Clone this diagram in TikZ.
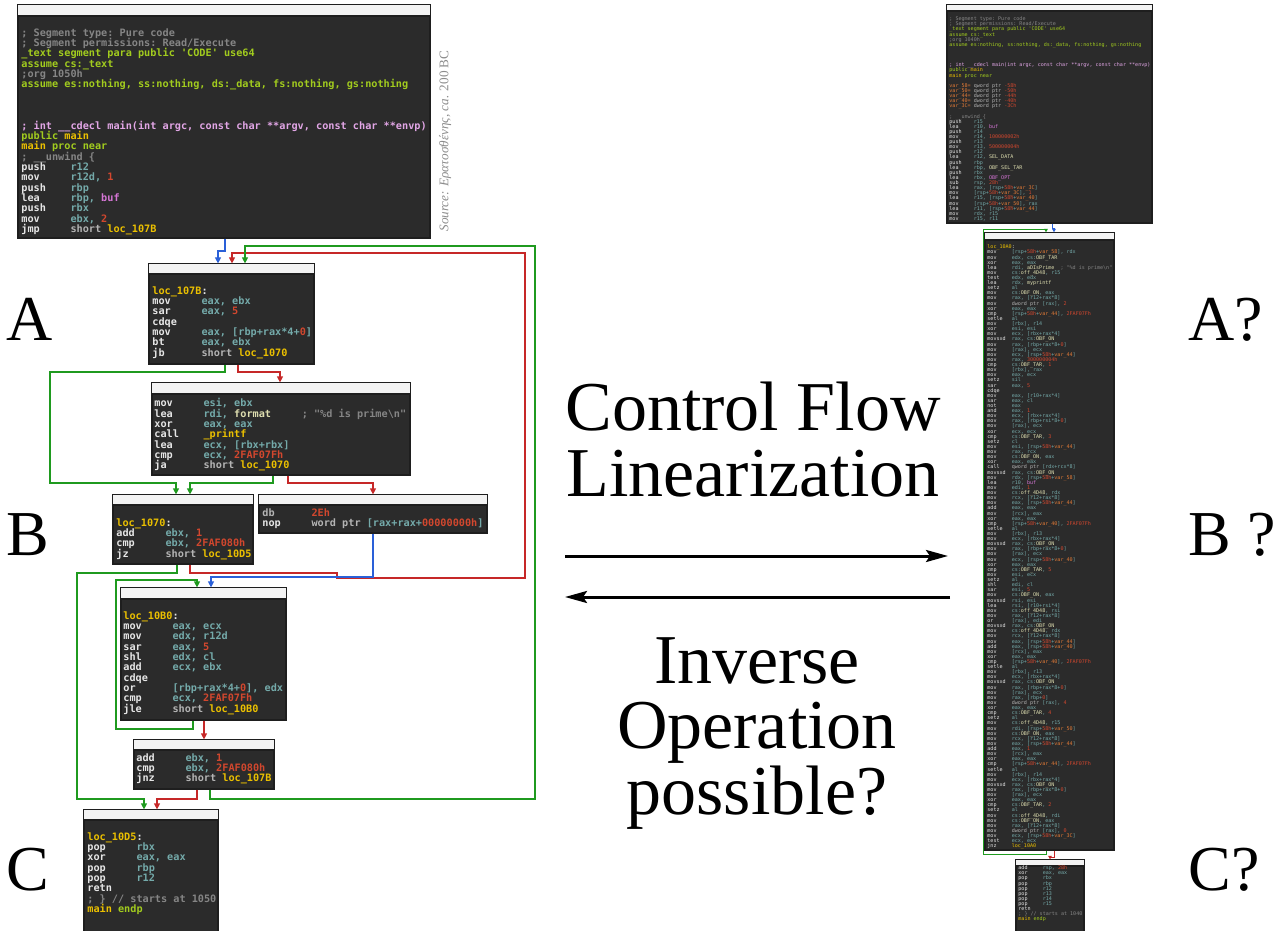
\documentclass[tikz,border=0pt]{standalone}
\usepackage{fontspec}
\setmainfont{Liberation Serif}
\setmonofont{DejaVu Sans Mono}
\usetikzlibrary{arrows.meta,fit}

\definecolor{codebg}{HTML}{2B2B2B}
\definecolor{titlec}{HTML}{F3F3F3}
\definecolor{framec}{HTML}{1E1E1E}
\definecolor{insc}{HTML}{E6E6E6}
\definecolor{cmtc}{HTML}{858585}
\definecolor{kwc}{HTML}{B4B4B4}
\definecolor{grnc}{HTML}{A2CC1E}
\definecolor{labc}{HTML}{EBC000}
\definecolor{nmbc}{HTML}{D2472E}
\definecolor{regc}{HTML}{74AAAA}
\definecolor{sigc}{HTML}{E2A6E6}
\definecolor{pnkc}{HTML}{D676D6}
\definecolor{symc}{HTML}{DEDEB0}
\definecolor{varc}{HTML}{E27A36}
\definecolor{flowgreen}{HTML}{1F9A1F}
\definecolor{flowred}{HTML}{C62828}
\definecolor{flowblue}{HTML}{2A60D8}
\definecolor{srcgray}{HTML}{8C8C8C}

\newcommand\cmt[1]{\textcolor{cmtc}{#1}}
\newcommand\kw[1]{\textcolor{kwc}{#1}}
\newcommand\grn[1]{\textcolor{grnc}{#1}}
\newcommand\lab[1]{\textcolor{labc}{#1}}
\newcommand\nmb[1]{\textcolor{nmbc}{#1}}
\newcommand\rg[1]{\textcolor{regc}{#1}}
\newcommand\sig[1]{\textcolor{sigc}{#1}}
\newcommand\pnk[1]{\textcolor{pnkc}{#1}}
\newcommand\symb[1]{\textcolor{symc}{#1}}
\newcommand\varo[1]{\textcolor{varc}{#1}}
\newcommand\ins[2]{\makebox[8\fontcharwd\font`0][l]{#1}#2}
\newcommand\gap[1]{\hspace*{#1\fontcharwd\font`0}}
\newcommand\stkv[1]{\rg{[rsp+}\nmb{58h}\rg{+}\varo{var\_#1}\rg{]}}
\newcommand\monospacing{\spaceskip=\fontcharwd\font`0\relax\xspaceskip=\spaceskip\lineskiplimit=-20pt\relax}
\newcommand\codeblk[6]{%
  \node[block, fit={(#2,#3) (#4,#5)}] (#1) {};
  \draw[titlebar] (#1.north west) rectangle (#1.north east |- 0,#6);}

\begin{document}
\begin{tikzpicture}[x=0.5pt,y=-0.5pt]
\tikzset{block/.style = {draw=framec, line width=0.6pt, fill=codebg, inner sep=0pt}}
\tikzset{titlebar/.style = {draw=framec, line width=0.6pt, fill=titlec}}
\tikzset{code/.style = {inner sep=0pt, anchor=north west, align=left, text width=215pt, text=insc,
  font=\ttfamily\bfseries\fontsize{5.1}{5.17}\selectfont\monospacing,
  execute at begin node=\monospacing}}
\tikzset{tinycode/.style = {inner sep=0pt, anchor=north west, align=left, text width=110pt, text=insc,
  font=\ttfamily\fontsize{2.53}{2.56}\selectfont\monospacing,
  execute at begin node=\monospacing}}
\tikzset{flow/.style = {line width=0.6pt, -{Triangle[length=3pt,width=3pt]}}}
\tikzset{tinyflow/.style = {line width=0.45pt, -{Triangle[length=1.8pt,width=1.8pt]}}}
\tikzset{letter/.style = {inner sep=0pt, anchor=base west, font=\fontsize{32}{32}\selectfont}}
\tikzset{bigtext/.style = {inner sep=0pt, anchor=north, align=center, font=\fontsize{35}{32.8}\selectfont}}
\tikzset{bigarrow/.style = {line width=1.5pt, -{Stealth[length=11pt,width=6pt,inset=2pt]}}}

\useasboundingbox (0,0) rectangle (1288,930);
\clip (0,0) rectangle (1288,930);

\codeblk{bpro}{18}{5}{430}{238}{16}
\codeblk{b107b}{149}{264}{314}{364}{274}
\codeblk{besi}{152}{383}{410}{475}{394}
\codeblk{b1070}{113}{495}{253}{564}{505}
\codeblk{bdb}{259}{495}{487}{533}{505}
\codeblk{b10b0}{121}{588}{286}{720}{599}
\codeblk{badd}{134}{740}{274}{789}{750}
\codeblk{b10d5}{84}{810}{218}{940}{820}

\node[code] (tpro) at (21,28) {%
\cmt{; Segment type: Pure code}\\
\cmt{; Segment permissions: Read/Execute}\\
\grn{\_text segment para public 'CODE' use64}\\
\grn{assume cs:\_text}\\
\cmt{;org 1050h}\\
\grn{assume es:nothing, ss:nothing, ds:\_data, fs:nothing, gs:nothing}\\
\mbox{}\\
\mbox{}\\
\mbox{}\\
\sig{; int \_\_cdecl main(int argc, const char **argv, const char **envp)}\\
\grn{public} \lab{main}\\
\lab{main} \grn{proc near}\\
\cmt{; \_\_unwind \{}\\
\ins{push}{\rg{r12}}\\
\ins{mov}{\rg{r12d, }\nmb{1}}\\
\ins{push}{\rg{rbp}}\\
\ins{lea}{\rg{rbp, }\pnk{buf}}\\
\ins{push}{\rg{rbx}}\\
\ins{mov}{\rg{ebx, }\nmb{2}}\\
\ins{jmp}{\kw{short} \lab{loc\_107B}}};

\node[code] (t107b) at (152,286) {%
\lab{loc\_107B}:\\
\ins{mov}{\rg{eax, ebx}}\\
\ins{sar}{\rg{eax, }\nmb{5}}\\
\ins{cdqe}{}\\
\ins{mov}{\rg{eax, [rbp+rax*4+}\nmb{0}\rg{]}}\\
\ins{bt}{\rg{eax, ebx}}\\
\ins{jb}{\kw{short} \lab{loc\_1070}}};

\node[code] (tesi) at (154,398) {%
\ins{mov}{\rg{esi, ebx}}\\
\ins{lea}{\rg{rdi, }\symb{format}\gap{5}\cmt{; "\%d is prime\textbackslash n"}}\\
\ins{xor}{\rg{eax, eax}}\\
\ins{call}{\lab{\_printf}}\\
\ins{lea}{\rg{ecx, [rbx+rbx]}}\\
\ins{cmp}{\rg{ecx, }\nmb{2FAF07Fh}}\\
\ins{ja}{\kw{short} \lab{loc\_1070}}};

\node[code] (t1070) at (116,518) {%
\lab{loc\_1070}:\\
\ins{add}{\rg{ebx, }\nmb{1}}\\
\ins{cmp}{\rg{ebx, }\nmb{2FAF080h}}\\
\ins{jz}{\kw{short} \lab{loc\_10D5}}};

\node[code] (tdb) at (262,508) {%
\ins{\kw{db}}{\nmb{2Eh}}\\
\ins{nop}{\kw{word ptr} \rg{[rax+rax+}\nmb{00000000h}\rg{]}}};

\node[code] (t10b0) at (123,611) {%
\lab{loc\_10B0}:\\
\ins{mov}{\rg{eax, ecx}}\\
\ins{mov}{\rg{edx, r12d}}\\
\ins{sar}{\rg{eax, }\nmb{5}}\\
\ins{shl}{\rg{edx, cl}}\\
\ins{add}{\rg{ecx, ebx}}\\
\ins{cdqe}{}\\
\ins{or}{\rg{[rbp+rax*4+}\nmb{0}\rg{], edx}}\\
\ins{cmp}{\rg{ecx, }\nmb{2FAF07Fh}}\\
\ins{jle}{\kw{short} \lab{loc\_10B0}}};

\node[code] (tadd) at (136,753) {%
\ins{add}{\rg{ebx, }\nmb{1}}\\
\ins{cmp}{\rg{ebx, }\nmb{2FAF080h}}\\
\ins{jnz}{\kw{short} \lab{loc\_107B}}};

\node[code] (t10d5) at (87,832) {%
\lab{loc\_10D5}:\\
\ins{pop}{\rg{rbx}}\\
\ins{xor}{\rg{eax, eax}}\\
\ins{pop}{\rg{rbp}}\\
\ins{pop}{\rg{r12}}\\
\ins{retn}{}\\
\cmt{; \} // starts at 1050}\\
\lab{main} \grn{endp}};

\node[inner sep=0pt, rotate=90, text=srcgray, font=\fontsize{6.6}{7}\selectfont] (src) at (445,141)
  {\textit{Source: Ερατοσθένης, ca.} 200 BC};

\draw[flow, flowblue] (bpro.south -| 225,0) |- (218,251) -- (b107b.north -| 218,0);
\draw[flow, flowred] (b1070.south -| 190,0) |- (337,573) |- (525,578) |- (232,253) -- (b107b.north -| 232,0);
\draw[flow, flowgreen] (badd.south -| 210,0) |- (535,799) |- (245,246) -- (b107b.north -| 245,0);
\draw[flow, flowred] (b107b.south -| 238,0) |- (280,372) -- (besi.north -| 280,0);
\draw[flow, flowgreen] (b107b.south -| 225,0) |- (50,372) |- (176,483) -- (b1070.north -| 176,0);
\draw[flow, flowgreen] (besi.south -| 273,0) |- (190,483) -- (b1070.north -| 190,0);
\draw[flow, flowred] (besi.south -| 288,0) |- (373,483) -- (bdb.north -| 373,0);
\draw[flow, flowblue] (bdb.south -| 373,0) |- (211,577) -- (b10b0.north -| 211,0);
\draw[flow, flowgreen] (b1070.south -| 177,0) |- (77,573) |- (144,799) -- (b10d5.north -| 144,0);
\draw[flow, flowgreen] (b10b0.south -| 193,0) |- (116,729) |- (197,580) -- (b10b0.north -| 197,0);
\draw[flow, flowred] (b10b0.south -| 204,0) -- (badd.north -| 204,0);
\draw[flow, flowred] (badd.south -| 197,0) |- (157,799) -- (b10d5.north -| 157,0);

\codeblk{rpro}{947}{5}{1152}{223}{11}
\codeblk{rbody}{985}{233}{1114}{850}{240}
\codeblk{rend}{1016}{860}{1084}{940}{866}

\node[tinycode] (trpro) at (949,16.5) {%
\cmt{; Segment type: Pure code}\\
\cmt{; Segment permissions: Read/Execute}\\
\grn{\_text segment para public 'CODE' use64}\\
\grn{assume cs:\_text}\\
\cmt{;org 1040h}\\
\grn{assume es:nothing, ss:nothing, ds:\_data, fs:nothing, gs:nothing}\\
\mbox{}\\
\mbox{}\\
\mbox{}\\
\sig{; int \_\_cdecl main(int argc, const char **argv, const char **envp)}\\
\grn{public} \lab{main}\\
\lab{main} \grn{proc near}\\
\mbox{}\\
\ins{\varo{var\_58=}}{\kw{qword ptr} \nmb{-58h}}\\
\ins{\varo{var\_50=}}{\kw{qword ptr} \nmb{-50h}}\\
\ins{\varo{var\_44=}}{\kw{dword ptr} \nmb{-44h}}\\
\ins{\varo{var\_40=}}{\kw{dword ptr} \nmb{-40h}}\\
\ins{\varo{var\_3C=}}{\kw{dword ptr} \nmb{-3Ch}}\\
\mbox{}\\
\cmt{; \_\_unwind \{}\\
\ins{push}{\rg{r15}}\\
\ins{lea}{\rg{r10, }\pnk{buf}}\\
\ins{push}{\rg{r14}}\\
\ins{mov}{\rg{r14, }\nmb{100000002h}}\\
\ins{push}{\rg{r13}}\\
\ins{mov}{\rg{r13, }\nmb{500000004h}}\\
\ins{push}{\rg{r12}}\\
\ins{lea}{\rg{r12, }\symb{SEL\_DATA}}\\
\ins{push}{\rg{rbp}}\\
\ins{lea}{\rg{rbp, }\symb{OBF\_SEL\_TAR}}\\
\ins{push}{\rg{rbx}}\\
\ins{lea}{\rg{rbx, }\pnk{OBF\_OPT}}\\
\ins{sub}{\rg{rsp, }\nmb{28h}}\\
\ins{lea}{\rg{rax, }\stkv{3C}}\\
\ins{mov}{\stkv{3C}\rg{, }\nmb{1}}\\
\ins{lea}{\rg{r15, }\stkv{40}}\\
\ins{mov}{\stkv{50}\rg{, rax}}\\
\ins{lea}{\rg{r11, }\stkv{44}}\\
\ins{mov}{\rg{rdx, r15}}\\
\ins{mov}{\rg{r15, r11}}};

\node[tinycode] (trbody) at (987,244.5) {%
\lab{loc\_10A0}:\\
\ins{mov}{\stkv{58}\rg{, rdx}}\\
\ins{mov}{\rg{edx, cs:}\symb{OBF\_TAR}}\\
\ins{xor}{\rg{eax, eax}}\\
\ins{lea}{\rg{rdi, }\symb{aDIsPrime}\gap{2}\cmt{; "\%d is prime\textbackslash n"}}\\
\ins{mov}{\rg{cs:}\symb{off\_4D48}\rg{, r15}}\\
\ins{test}{\rg{edx, edx}}\\
\ins{lea}{\rg{rdx, }\symb{myprintf}}\\
\ins{setz}{\rg{al}}\\
\ins{mov}{\rg{cs:}\symb{OBF\_ON}\rg{, eax}}\\
\ins{mov}{\rg{rax, [r12+rax*8]}}\\
\ins{mov}{\kw{dword ptr} \rg{[rax], }\nmb{2}}\\
\ins{xor}{\rg{eax, eax}}\\
\ins{cmp}{\stkv{44}\rg{, }\nmb{2FAF07Fh}}\\
\ins{setle}{\rg{al}}\\
\ins{mov}{\rg{[rbx], r14}}\\
\ins{xor}{\rg{esi, esi}}\\
\ins{mov}{\rg{ecx, [rbx+rax*4]}}\\
\ins{movsxd}{\rg{rax, cs:}\symb{OBF\_ON}}\\
\ins{mov}{\rg{rax, [rbp+rax*8+}\nmb{0}\rg{]}}\\
\ins{mov}{\rg{[rax], ecx}}\\
\ins{mov}{\rg{ecx, }\stkv{44}}\\
\ins{mov}{\rg{rax, }\nmb{300000004h}}\\
\ins{cmp}{\rg{cs:}\symb{OBF\_TAR}\rg{, }\nmb{1}}\\
\ins{mov}{\rg{[rbx], rax}}\\
\ins{mov}{\rg{eax, ecx}}\\
\ins{setz}{\rg{sil}}\\
\ins{sar}{\rg{eax, }\nmb{5}}\\
\ins{cdqe}{}\\
\ins{mov}{\rg{eax, [r10+rax*4]}}\\
\ins{sar}{\rg{eax, cl}}\\
\ins{not}{\rg{eax}}\\
\ins{and}{\rg{eax, }\nmb{1}}\\
\ins{mov}{\rg{ecx, [rbx+rax*4]}}\\
\ins{mov}{\rg{rax, [rbp+rsi*8+}\nmb{0}\rg{]}}\\
\ins{mov}{\rg{[rax], ecx}}\\
\ins{xor}{\rg{ecx, ecx}}\\
\ins{cmp}{\rg{cs:}\symb{OBF\_TAR}\rg{, }\nmb{3}}\\
\ins{setz}{\rg{cl}}\\
\ins{mov}{\rg{esi, }\stkv{44}}\\
\ins{mov}{\rg{rax, rcx}}\\
\ins{mov}{\rg{cs:}\symb{OBF\_ON}\rg{, eax}}\\
\ins{xor}{\rg{eax, eax}}\\
\ins{call}{\kw{qword ptr} \rg{[rdx+rcx*8]}}\\
\ins{movsxd}{\rg{rax, cs:}\symb{OBF\_ON}}\\
\ins{mov}{\rg{rdx, }\stkv{58}}\\
\ins{lea}{\rg{r10, }\pnk{buf}}\\
\ins{mov}{\rg{edi, }\nmb{1}}\\
\ins{mov}{\rg{cs:}\symb{off\_4D48}\rg{, rdx}}\\
\ins{mov}{\rg{rcx, [r12+rax*8]}}\\
\ins{mov}{\rg{eax, }\stkv{44}}\\
\ins{add}{\rg{eax, eax}}\\
\ins{mov}{\rg{[rcx], eax}}\\
\ins{xor}{\rg{eax, eax}}\\
\ins{cmp}{\stkv{40}\rg{, }\nmb{2FAF07Fh}}\\
\ins{setle}{\rg{al}}\\
\ins{mov}{\rg{[rbx], r13}}\\
\ins{mov}{\rg{ecx, [rbx+rax*4]}}\\
\ins{movsxd}{\rg{rax, cs:}\symb{OBF\_ON}}\\
\ins{mov}{\rg{rax, [rbp+rax*8+}\nmb{0}\rg{]}}\\
\ins{mov}{\rg{[rax], ecx}}\\
\ins{mov}{\rg{ecx, }\stkv{40}}\\
\ins{xor}{\rg{eax, eax}}\\
\ins{cmp}{\rg{cs:}\symb{OBF\_TAR}\rg{, }\nmb{5}}\\
\ins{mov}{\rg{esi, ecx}}\\
\ins{setz}{\rg{al}}\\
\ins{shl}{\rg{edi, cl}}\\
\ins{sar}{\rg{esi, }\nmb{5}}\\
\ins{mov}{\rg{cs:}\symb{OBF\_ON}\rg{, eax}}\\
\ins{movsxd}{\rg{rsi, esi}}\\
\ins{lea}{\rg{rsi, [r10+rsi*4]}}\\
\ins{mov}{\rg{cs:}\symb{off\_4D48}\rg{, rsi}}\\
\ins{mov}{\rg{rax, [r12+rax*8]}}\\
\ins{or}{\rg{[rax], edi}}\\
\ins{movsxd}{\rg{rax, cs:}\symb{OBF\_ON}}\\
\ins{mov}{\rg{cs:}\symb{off\_4D48}\rg{, rdx}}\\
\ins{mov}{\rg{rcx, [r12+rax*8]}}\\
\ins{mov}{\rg{eax, }\stkv{44}}\\
\ins{add}{\rg{eax, }\stkv{40}}\\
\ins{mov}{\rg{[rcx], eax}}\\
\ins{xor}{\rg{eax, eax}}\\
\ins{cmp}{\stkv{40}\rg{, }\nmb{2FAF07Fh}}\\
\ins{setle}{\rg{al}}\\
\ins{mov}{\rg{[rbx], r13}}\\
\ins{mov}{\rg{ecx, [rbx+rax*4]}}\\
\ins{movsxd}{\rg{rax, cs:}\symb{OBF\_ON}}\\
\ins{mov}{\rg{rax, [rbp+rax*8+}\nmb{0}\rg{]}}\\
\ins{mov}{\rg{[rax], ecx}}\\
\ins{mov}{\rg{rax, [rbp+}\nmb{0}\rg{]}}\\
\ins{mov}{\kw{dword ptr} \rg{[rax], }\nmb{4}}\\
\ins{xor}{\rg{eax, eax}}\\
\ins{cmp}{\rg{cs:}\symb{OBF\_TAR}\rg{, }\nmb{4}}\\
\ins{setz}{\rg{al}}\\
\ins{mov}{\rg{cs:}\symb{off\_4D48}\rg{, r15}}\\
\ins{mov}{\rg{rdi, }\stkv{50}}\\
\ins{mov}{\rg{cs:}\symb{OBF\_ON}\rg{, eax}}\\
\ins{mov}{\rg{rcx, [r12+rax*8]}}\\
\ins{mov}{\rg{eax, }\stkv{44}}\\
\ins{add}{\rg{eax, }\nmb{1}}\\
\ins{mov}{\rg{[rcx], eax}}\\
\ins{xor}{\rg{eax, eax}}\\
\ins{cmp}{\stkv{44}\rg{, }\nmb{2FAF07Fh}}\\
\ins{setle}{\rg{al}}\\
\ins{mov}{\rg{[rbx], r14}}\\
\ins{mov}{\rg{ecx, [rbx+rax*4]}}\\
\ins{movsxd}{\rg{rax, cs:}\symb{OBF\_ON}}\\
\ins{mov}{\rg{rax, [rbp+rax*8+}\nmb{0}\rg{]}}\\
\ins{mov}{\rg{[rax], ecx}}\\
\ins{xor}{\rg{eax, eax}}\\
\ins{cmp}{\rg{cs:}\symb{OBF\_TAR}\rg{, }\nmb{2}}\\
\ins{setz}{\rg{al}}\\
\ins{mov}{\rg{cs:}\symb{off\_4D48}\rg{, rdi}}\\
\ins{mov}{\rg{cs:}\symb{OBF\_ON}\rg{, eax}}\\
\ins{mov}{\rg{rax, [r12+rax*8]}}\\
\ins{mov}{\kw{dword ptr} \rg{[rax], }\nmb{0}}\\
\ins{mov}{\rg{ecx, }\stkv{3C}}\\
\ins{test}{\rg{ecx, ecx}}\\
\ins{jnz}{\lab{loc\_10A0}}};

\node[tinycode] (trend) at (1018,865.5) {%
\ins{add}{\rg{rsp, }\nmb{28h}}\\
\ins{xor}{\rg{eax, eax}}\\
\ins{pop}{\rg{rbx}}\\
\ins{pop}{\rg{rbp}}\\
\ins{pop}{\rg{r12}}\\
\ins{pop}{\rg{r13}}\\
\ins{pop}{\rg{r14}}\\
\ins{pop}{\rg{r15}}\\
\ins{retn}{}\\
\cmt{; \} // starts at 1040}\\
\lab{main} \grn{endp}};

\draw[tinyflow, flowblue] (rpro.south -| 1052,0) |- (1054,228) -- (rbody.north -| 1054,0);
\draw[tinyflow, flowgreen] (rbody.south -| 1046,0) |- (983,854) |- (1046,229) -- (rbody.north -| 1046,0);
\draw[tinyflow, flowred] (rbody.south -| 1054,0) |- (1050,857) -- (rend.north -| 1050,0);

\node[letter] (la) at (6,340) {A};
\node[letter] (lb) at (6,555) {B};
\node[letter] (lc) at (6,890) {C};
\node[letter] (ra) at (1188,340) {A?};
\node[letter] (rb) at (1188,555) {B ?};
\node[letter] (rc) at (1188,890) {C?};

\node[bigtext] (ctrl) at (753,382) {Control Flow\\Linearization};
\node[bigtext] (inv) at (757,637) {Inverse\\Operation\\possible?};

\coordinate (fwdA) at (565,556);
\coordinate (fwdB) at (948,556);
\coordinate (backA) at (950,597);
\coordinate (backB) at (565,597);
\draw[bigarrow] (fwdA) -- (fwdB);
\draw[bigarrow] (backA) -- (backB);
\end{tikzpicture}
\end{document}
